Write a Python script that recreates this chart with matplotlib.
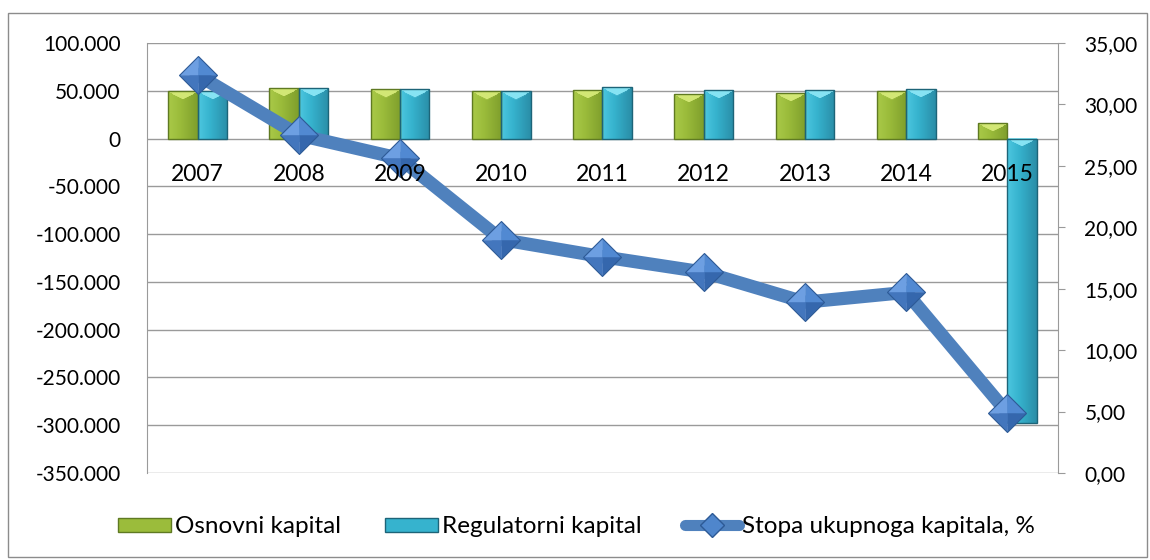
import numpy as np
import matplotlib
matplotlib.use('Agg')
import matplotlib.pyplot as plt
from matplotlib.patches import Rectangle, Patch
from matplotlib.lines import Line2D
from matplotlib.colors import to_rgb
from matplotlib.ticker import FuncFormatter

plt.rcParams['font.family'] = ['Lato', 'DejaVu Sans']

# data
years = ['2007', '2008', '2009', '2010', '2011', '2012', '2013', '2014', '2015']
osnovni = [50200, 53000, 51600, 49500, 51000, 46700, 47800, 49500, 16400]
regulatorni = [50000, 53000, 51600, 49500, 53700, 51000, 51000, 52000, -298000]
stopa = [32.4, 27.5, 25.6, 19.0, 17.6, 16.35, 13.9, 14.7, 4.9]

# colours: (top bevel, left, centre, right, edge)
green = ('#d2e775', '#a9c948', '#9bbc3b', '#7f9f2c', '#5f7a22')
cyan = ('#86e3f3', '#4cc6df', '#36b3ce', '#2a8ea8', '#1d6478')
blue = '#4f81bd'
grid = '#9a9a9a'

fig = plt.figure(figsize=(11.5, 5.6), dpi=100)
ax = fig.add_axes([0.1278, 0.1554, 0.7922, 0.7679])
x = np.arange(len(years))
w = 0.29
ymin, ymax = -350000, 100000
px_per_unit = 0.7679 * 560 / (ymax - ymin)


def shaded_bar(xc, val, cols):
    # bar drawn as a small image: horizontal gradient plus a light bevel on top
    top, left, mid, right, edge = [np.array(to_rgb(c)) for c in cols]
    nx = 29
    ny = max(3, int(round(abs(val) * px_per_unit)))
    t = np.linspace(0, 1, nx)
    row = np.stack([np.interp(t, [0, 0.4, 1], [left[k], mid[k], right[k]]) for k in range(3)], axis=1)
    img = np.repeat(row[None, :, :], ny, axis=0)
    b = min(8, ny)
    for r in range(b):
        half = (nx / 2) * (1 - r / b)
        cc = np.abs(np.arange(nx) - (nx - 1) / 2) < half
        img[r, cc] = top
    y0, y1 = min(0, val), max(0, val)
    ax.imshow(img, extent=(xc - w/2, xc + w/2, y0, y1), origin='upper', aspect='auto',
              interpolation='bilinear', zorder=3)
    ax.add_patch(Rectangle((xc - w/2, y0), w, y1 - y0, fill=False, edgecolor=edge, linewidth=1, zorder=3.1))


for i in range(len(years)):
    shaded_bar(x[i] - w/2, osnovni[i], green)
    shaded_bar(x[i] + w/2, regulatorni[i], cyan)

ax.set_xlim(-0.5, len(years) - 0.5)
ax.set_ylim(ymin, ymax)
ax.set_yticks(np.arange(ymin, ymax + 1, 50000))
ax.yaxis.set_major_formatter(FuncFormatter(lambda v, p: f'{v:,.0f}'.replace(',', '.')))
ax.grid(axis='y', color=grid, linewidth=1, zorder=0)
ax.set_axisbelow(True)
for s in ['top', 'bottom', 'right']:
    ax.spines[s].set_visible(False)
ax.spines['left'].set_color(grid)
ax.tick_params(axis='y', length=0, pad=19, labelsize=15)
ax.tick_params(axis='x', length=0, labelbottom=False)

ax2 = ax.twinx()
ax2.plot(x, stopa, color=blue, linewidth=9.5, solid_joinstyle='miter', zorder=2)
# pyramid-like diamond markers: four faces with different shades
faces = [([(0, 0), (-1, 0), (0, 1), (0, 0)], '#6d9fe2'),
         ([(0, 0), (0, 1), (1, 0), (0, 0)], '#5189d2'),
         ([(0, 0), (1, 0), (0, -1), (0, 0)], '#3567ad'),
         ([(0, 0), (0, -1), (-1, 0), (0, 0)], '#4376bd')]
for verts, fc in faces:
    ax2.plot(x, stopa, linestyle='none', marker=verts, markersize=27, markerfacecolor=fc,
             markeredgecolor=fc, markeredgewidth=0.3, zorder=2.1)
ax2.plot(x, stopa, linestyle='none', marker='D', markersize=19, markerfacecolor='none',
         markeredgecolor='#2d5a96', markeredgewidth=0.8, zorder=2.2)
ax2.set_ylim(0, 35)
ax2.set_yticks(np.arange(0, 36, 5))
ax2.yaxis.set_major_formatter(FuncFormatter(lambda v, p: f'{v:.2f}'.replace('.', ',')))
for s in ['top', 'left']:
    ax2.spines[s].set_visible(False)
ax2.spines['right'].set_color(grid)
ax2.tick_params(axis='y', direction='out', length=5, color=grid, pad=14, labelsize=15)

# category labels sit just under the zero line, drawn over the line series
ax2.xaxis.set_visible(True)
ax2.set_xticks(x)
ax2.set_xticklabels(years)
ax2.spines['bottom'].set_position(('axes', (0 - ymin) / (ymax - ymin)))
ax2.spines['bottom'].set_visible(False)
ax2.tick_params(axis='x', length=0, pad=18, labelsize=16.5)
ax2.set_xlim(-0.5, len(years) - 0.5)
ax2.xaxis.set_zorder(4)

handles = [Patch(facecolor=green[2], edgecolor=green[4]),
           Patch(facecolor=cyan[2], edgecolor=cyan[4]),
           Line2D([], [], color=blue, linewidth=8, solid_capstyle='round', marker='D', markersize=12,
                  markerfacecolor='#4f86cc', markeredgecolor='#2d5a96')]
labels = ['Osnovni kapital', 'Regulatorni kapital', 'Stopa ukupnoga kapitala, %']
fig.legend(handles, labels, loc='center left', bbox_to_anchor=(0.1026, 0.059),
           ncol=3, frameon=False, fontsize=17.5, handlelength=2.2, handleheight=0.55,
           handletextpad=0.15, columnspacing=1.8, borderpad=0, borderaxespad=0)

fig.patches.append(Rectangle((0.007, 0.005), 0.990, 0.971, transform=fig.transFigure,
                             fill=False, edgecolor='#8c8c8c', linewidth=1))

plt.savefig('out.png', dpi=100)
